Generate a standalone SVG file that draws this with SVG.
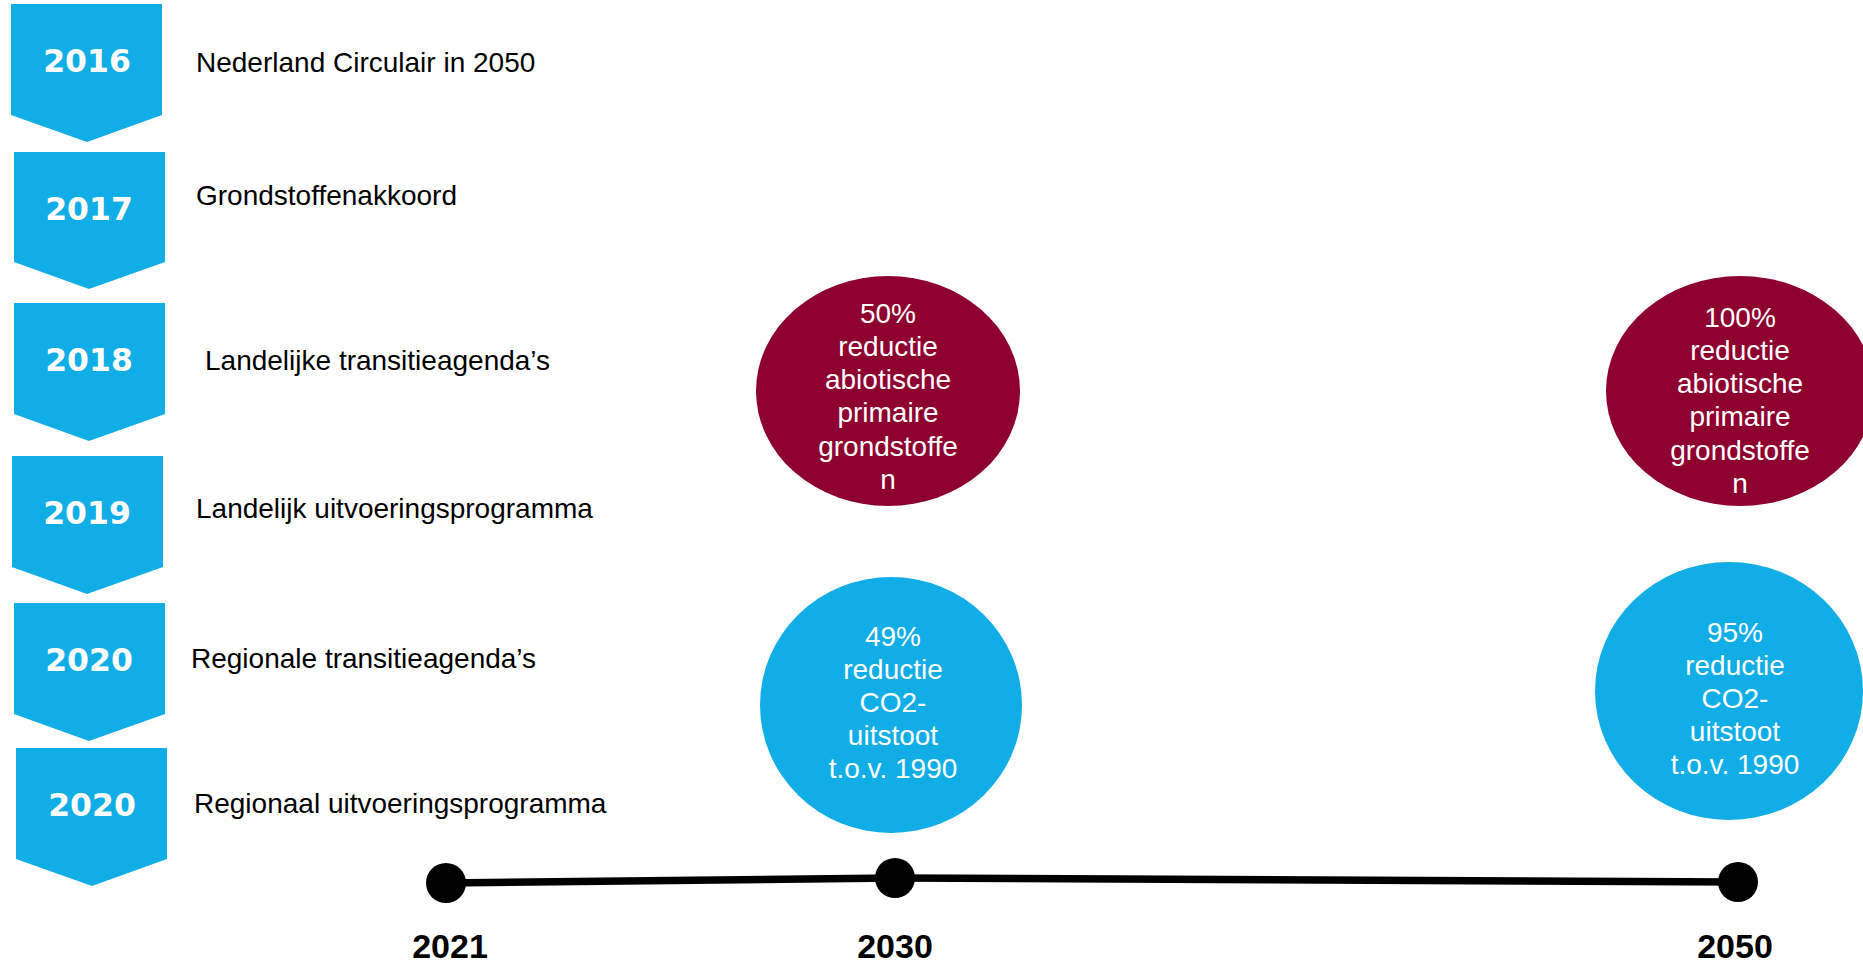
<svg xmlns="http://www.w3.org/2000/svg" width="1863" height="964" viewBox="0 0 1863 964">
  <style>
    .chev { fill: #10ADE7; }
    .yr { font-family: "DejaVu Sans", Verdana, sans-serif; font-weight: bold; font-size: 31.5px; fill: #FFFFFF; text-anchor: middle; }
    .lbl { font-family: "Liberation Sans", Arial, sans-serif; font-size: 28px; fill: #000000; }
    .ctext { font-family: "Liberation Sans", Arial, sans-serif; font-size: 28px; fill: #FFFFFF; text-anchor: middle; }
    .red { fill: #8E0030; }
    .blue { fill: #10ADE7; }
    .dot { fill: #000000; }
    .axis { fill: none; stroke: #000000; stroke-width: 7.5; }
    .tl { font-family: "Liberation Sans", Arial, sans-serif; font-weight: bold; font-size: 34px; fill: #000000; text-anchor: middle; }
  </style>
  <rect width="1863" height="964" fill="#FFFFFF"/>

  <g id="step-2016">
    <polygon class="chev" points="11,4 162,4 162,115 87,142 11,115"/>
    <text class="yr" x="87" y="72">2016</text>
    <text class="lbl" x="196" y="72">Nederland Circulair in 2050</text>
  </g>
  <g id="step-2017">
    <polygon class="chev" points="14,152 165,152 165,262 89,289 14,262"/>
    <text class="yr" x="89" y="220">2017</text>
    <text class="lbl" x="196" y="205">Grondstoffenakkoord</text>
  </g>
  <g id="step-2018">
    <polygon class="chev" points="14,303 165,303 165,414 89,441 14,414"/>
    <text class="yr" x="89" y="371">2018</text>
    <text class="lbl" x="205" y="370">Landelijke transitieagenda’s</text>
  </g>
  <g id="step-2019">
    <polygon class="chev" points="12,456 163,456 163,567 87,594 12,567"/>
    <text class="yr" x="87" y="524">2019</text>
    <text class="lbl" x="196" y="518">Landelijk uitvoeringsprogramma</text>
  </g>
  <g id="step-2020a">
    <polygon class="chev" points="14,603 165,603 165,714 89,741 14,714"/>
    <text class="yr" x="89" y="671">2020</text>
    <text class="lbl" x="191" y="668">Regionale transitieagenda’s</text>
  </g>
  <g id="step-2020b">
    <polygon class="chev" points="16,748 167,748 167,859 92,886 16,859"/>
    <text class="yr" x="92" y="816">2020</text>
    <text class="lbl" x="194" y="813">Regionaal uitvoeringsprogramma</text>
  </g>

  <g id="goal-2030-grondstoffen">
    <ellipse class="red" cx="888" cy="391" rx="132" ry="115"/>
    <text class="ctext" x="888" y="323">50%</text>
    <text class="ctext" x="888" y="356">reductie</text>
    <text class="ctext" x="888" y="389">abiotische</text>
    <text class="ctext" x="888" y="422">primaire</text>
    <text class="ctext" x="888" y="456">grondstoffe</text>
    <text class="ctext" x="888" y="489">n</text>
  </g>
  <g id="goal-2050-grondstoffen">
    <ellipse class="red" cx="1740" cy="391" rx="134" ry="115"/>
    <text class="ctext" x="1740" y="327">100%</text>
    <text class="ctext" x="1740" y="360">reductie</text>
    <text class="ctext" x="1740" y="393">abiotische</text>
    <text class="ctext" x="1740" y="426">primaire</text>
    <text class="ctext" x="1740" y="460">grondstoffe</text>
    <text class="ctext" x="1740" y="493">n</text>
  </g>
  <g id="goal-2030-co2">
    <ellipse class="blue" cx="891" cy="705" rx="131" ry="128"/>
    <text class="ctext" x="893" y="646">49%</text>
    <text class="ctext" x="893" y="679">reductie</text>
    <text class="ctext" x="893" y="712">CO2-</text>
    <text class="ctext" x="893" y="745">uitstoot</text>
    <text class="ctext" x="893" y="778">t.o.v. 1990</text>
  </g>
  <g id="goal-2050-co2">
    <ellipse class="blue" cx="1729" cy="691" rx="134" ry="129"/>
    <text class="ctext" x="1735" y="642">95%</text>
    <text class="ctext" x="1735" y="675">reductie</text>
    <text class="ctext" x="1735" y="708">CO2-</text>
    <text class="ctext" x="1735" y="741">uitstoot</text>
    <text class="ctext" x="1735" y="774">t.o.v. 1990</text>
  </g>

  <g id="connectors">
    <polyline class="axis" points="446,883 895,878 1738,882"/>
  </g>
  <g id="tick-2021">
    <circle class="dot" cx="446" cy="883" r="20"/>
    <text class="tl" x="450" y="958">2021</text>
  </g>
  <g id="tick-2030">
    <circle class="dot" cx="895" cy="878" r="20"/>
    <text class="tl" x="895" y="958">2030</text>
  </g>
  <g id="tick-2050">
    <circle class="dot" cx="1738" cy="882" r="20"/>
    <text class="tl" x="1735" y="958">2050</text>
  </g>
</svg>
